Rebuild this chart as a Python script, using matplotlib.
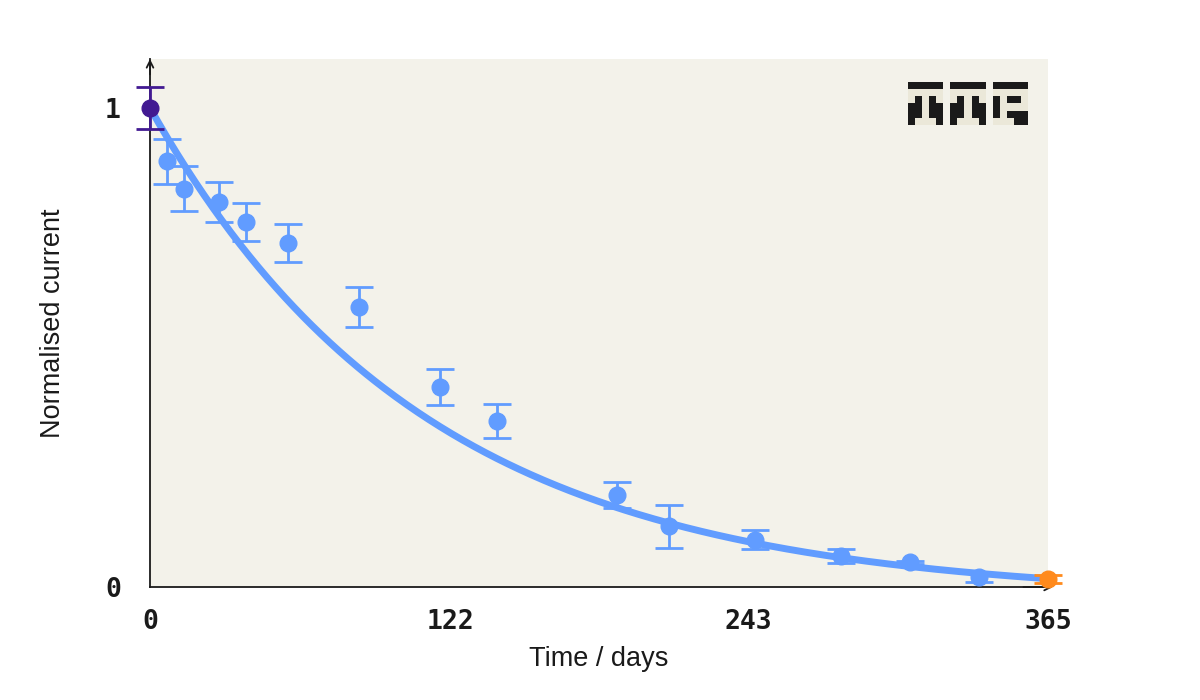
import numpy as np
import matplotlib
matplotlib.use("Agg")
import matplotlib.pyplot as plt
from matplotlib.colors import ListedColormap

# measured points
days = [0, 7, 14, 28, 39, 56, 85, 118, 141, 190, 211, 246, 281, 309, 337, 365]
current = [1.0, 0.889, 0.831, 0.804, 0.762, 0.718, 0.585, 0.418, 0.347,
           0.192, 0.127, 0.099, 0.065, 0.052, 0.020, 0.017]
errors = [0.044, 0.047, 0.047, 0.042, 0.040, 0.039, 0.042, 0.038, 0.035,
          0.027, 0.045, 0.019, 0.014, 0.003, 0.010, 0.008]

# fitted decay: y = (1 + c) * exp(-t / tau) - c
fit_tau = 112.0
fit_offset = 0.022

x_ticks = [0, 122, 243, 365]
y_ticks = [0, 1]

BLUE = "#619cff"
PURPLE = "#421a92"
ORANGE = "#ff8a1c"
BG = "#f3f2ea"
INK = "#1a1a1a"

fig = plt.figure(figsize=(12, 7), dpi=100)
ax = fig.add_axes([150 / 1200, 113 / 700, 898 / 1200, 528 / 700])
ax.set_facecolor(BG)

# fit line
t = np.linspace(0, 365, 400)
fit = (1 + fit_offset) * np.exp(-t / fit_tau) - fit_offset
ax.plot(t, fit, color=BLUE, lw=5, zorder=2, solid_capstyle="butt")

# points with error bars
colors = [PURPLE] + [BLUE] * (len(days) - 2) + [ORANGE]
for d, c, e, col in zip(days, current, errors, colors):
    ax.errorbar(d, c, yerr=e, fmt="o", color=col, ms=12, elinewidth=2,
                capsize=10, capthick=2, zorder=3, clip_on=False)

ax.set_xlim(0, 365)
ax.set_ylim(0, 1.102)
ax.set_xticks(x_ticks)
ax.set_yticks(y_ticks)
ax.set_xticklabels([str(v) for v in x_ticks], family="DejaVu Sans Mono",
                   fontweight="bold", fontsize=19, color=INK)
ax.set_yticklabels([str(v) for v in y_ticks], family="DejaVu Sans Mono",
                   fontweight="bold", fontsize=19, color=INK)
ax.tick_params(axis="both", length=0)
ax.tick_params(axis="x", pad=16)
ax.tick_params(axis="y", pad=21)

for s in ["top", "right"]:
    ax.spines[s].set_visible(False)
for s in ["left", "bottom"]:
    ax.spines[s].set_color(INK)
    ax.spines[s].set_linewidth(1.3)

# arrow heads at the axis ends
ax.annotate("", xy=(0, 1.102), xytext=(0, 1.07), xycoords="data",
            arrowprops=dict(arrowstyle="->", color=INK, lw=1.3,
                            mutation_scale=12, shrinkA=0, shrinkB=0),
            annotation_clip=False, zorder=1)
ax.annotate("", xy=(367, 0), xytext=(355, 0), xycoords="data",
            arrowprops=dict(arrowstyle="->", color=INK, lw=1.3,
                            mutation_scale=12, shrinkA=0, shrinkB=0),
            annotation_clip=False, zorder=1)

ax.set_xlabel("Time / days", family="Liberation Sans", fontsize=19.5, color=INK,
              labelpad=8)
ax.set_ylabel("Normalised current", family="Liberation Sans", fontsize=19.5,
              color=INK, labelpad=28)

# pixel logo
g_pi = [[1, 1, 1, 1, 1],
        [0, 0, 0, 0, 0],
        [0, 1, 0, 1, 0],
        [1, 1, 0, 1, 1],
        [1, 1, 0, 1, 1],
        [1, 0, 0, 0, 1]]
g_r = [[1, 1, 1, 1, 1],
       [0, 0, 0, 0, 0],
       [1, 0, 1, 1, 0],
       [1, 0, 0, 0, 0],
       [1, 0, 1, 1, 1],
       [0, 0, 0, 1, 1]]
gap = [[-1] for _ in range(6)]
logo = np.hstack([np.array(g_pi), np.array(gap), np.array(g_pi),
                  np.array(gap), np.array(g_r)])
cmap = ListedColormap([BG, "#ebe8d9", INK])
lax = fig.add_axes([908 / 1200, 1 - 125 / 700, 120 / 1200, 43 / 700])
lax.imshow(logo, cmap=cmap, vmin=-1, vmax=1, aspect="auto",
           interpolation="nearest")
lax.axis("off")

fig.savefig("out.png", dpi=100)
